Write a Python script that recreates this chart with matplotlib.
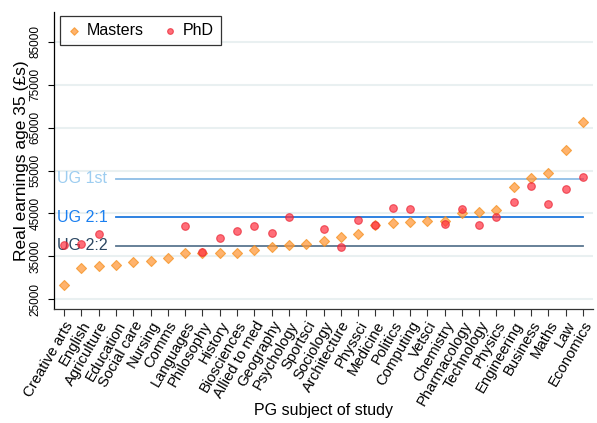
import matplotlib
matplotlib.use("Agg")
import matplotlib.pyplot as plt
import matplotlib.transforms as mtransforms
import numpy as np

plt.rcParams['font.family'] = ['Liberation Sans', 'DejaVu Sans']

subjects = ["Creative arts", "English", "Agriculture", "Education", "Social care",
            "Nursing", "Comms", "Languages", "Philosophy", "History", "Biosciences",
            "Allied to med", "Geography", "Psychology", "Sportsci", "Sociology",
            "Architecture", "Physsci", "Medicine", "Politics", "Computing", "Vetsci",
            "Chemistry", "Pharmacology", "Technology", "Physics", "Engineering",
            "Business", "Maths", "Law", "Economics"]

masters = [28200, 32300, 32700, 33000, 33700, 34000, 34650, 35680, 35750, 35750,
           35750, 36450, 37200, 37550, 37770, 38620, 39400, 40190, 42200, 42830,
           42900, 43150, 43300, 45020, 45250, 45860, 51170, 53350, 54370, 59740, 66360]

phd = [37620, 37850, 40110, np.nan, np.nan, np.nan, np.nan, 42130, 36050, 39320,
       40960, 42060, 40350, 44090, np.nan, 41280, 37150, 43380, 42200, 46260,
       46100, np.nan, 42520, 46030, 42290, 44090, 47730, 51330, 47120, 50780, 53580]

ug_labels = ["UG 1st", "UG 2:1", "UG 2:2"]
ug_values = [53040, 44160, 37450]
ug_line_colors = ["#8dbde6", "#1f78de", "#5b7690"]
ug_text_colors = ["#9dcdf0", "#1a7ff0", "#2c4762"]

yticks = [25000, 35000, 45000, 55000, 65000, 75000, 85000]

fig = plt.figure(figsize=(5.97, 4.23), dpi=100)
ax = fig.add_axes([54/597, 1-309/423, 539/597, 297/423])

x = np.arange(len(subjects))

for yt in yticks:
    ax.axhline(yt, color="#e9f0f1", lw=1.5, zorder=0)

for lab, val, lc, tc in zip(ug_labels, ug_values, ug_line_colors, ug_text_colors):
    ax.plot([3, 30], [val, val], color=lc, lw=1.3, zorder=1)
    ax.text(0.006, val, lab, color=tc, fontsize=11.5, va="center", ha="left",
            transform=mtransforms.blended_transform_factory(ax.transAxes, ax.transData),
            zorder=1)

ax.scatter(x, masters, marker="D", s=26, color="#ff9a3c", alpha=0.75,
           edgecolors="#f5901f", linewidths=0.8, label="Masters", zorder=3)
ax.scatter(x, phd, marker="o", s=30, color="#ff3040", alpha=0.7,
           edgecolors="#e8202e", linewidths=0.8, label="PhD", zorder=3)

ax.set_xlim(-0.58, 30.58)
ax.set_ylim(22700, 92000)
ax.set_yticks(yticks)
ax.set_yticklabels([str(v) for v in yticks], rotation=90, va="center", fontsize=8.5)
ax.set_xticks(x)
ax.set_xticklabels(subjects, rotation=60, ha="right", rotation_mode="anchor", fontsize=10.7)

ax.tick_params(axis="y", length=4, width=0.8, pad=5)
ax.tick_params(axis="x", length=5, width=0.8, pad=2, color="#333333")

for s in ["top", "right"]:
    ax.spines[s].set_visible(False)
ax.spines["left"].set_color("black")
ax.spines["bottom"].set_color("#333333")
ax.spines["left"].set_linewidth(0.9)
ax.spines["bottom"].set_linewidth(0.9)

ax.set_ylabel("Real earnings age 35 (£s)", fontsize=12.5, labelpad=0)
fig.text(323.5/597, 1-410/423, "PG subject of study", fontsize=11.5,
         ha="center", va="center")

leg = ax.legend(loc="upper left", ncol=2, fontsize=11.5, frameon=True, fancybox=False,
                edgecolor="black", borderpad=0.45, handletextpad=0.4, columnspacing=1.3,
                handlelength=0.8, markerscale=0.75, borderaxespad=0,
                bbox_to_anchor=(0.011, 0.987))
leg.get_frame().set_linewidth(0.9)

fig.savefig("out.png", dpi=100)
